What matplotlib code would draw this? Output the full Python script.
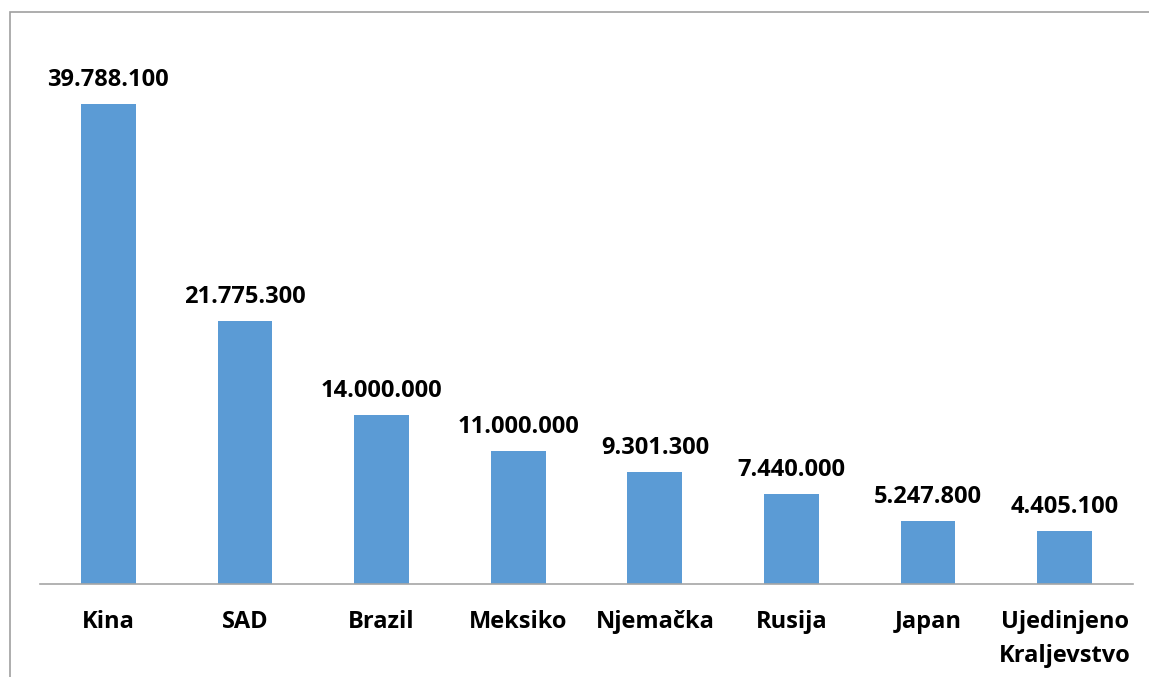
import matplotlib.pyplot as plt
from matplotlib.patches import Rectangle

countries = ["Kina", "SAD", "Brazil", "Meksiko", "Njemačka", "Rusija", "Japan",
             "Ujedinjeno\nKraljevstvo"]
values = [39788100, 21775300, 14000000, 11000000, 9301300, 7440000, 5247800, 4405100]


def fmt(v):
    # thousands separated with dots
    return f"{v:,}".replace(",", ".")


plt.rcParams['font.family'] = ['Open Sans', 'DejaVu Sans']

W, H = 1149, 677
fig = plt.figure(figsize=(W / 100, H / 100), dpi=100)

# axes placed in pixel terms: baseline y=584, left x=40, right x=1133
top_px = 60
ax = fig.add_axes([40 / W, (H - 584) / H, (1133 - 40) / W, (584 - top_px) / H])

x = range(len(countries))
ax.bar(x, values, width=0.4, color="#5B9BD5", zorder=2)
for xi, v in zip(x, values):
    ax.annotate(fmt(v), (xi, v), xytext=(0, 8.5), textcoords="offset points",
                ha="center", va="bottom", fontsize=17, fontweight="bold", color="#000000")

ax.set_xlim(-0.5, len(countries) - 0.5)
ax.set_ylim(0, (584 - top_px) / 480 * values[0])
ax.set_xticks(list(x))
ax.set_xticklabels(countries, fontsize=17, fontweight="bold", linespacing=1.52, va="top")
ax.tick_params(axis="x", length=0, pad=19)
ax.set_yticks([])
for s in ["top", "right", "left"]:
    ax.spines[s].set_visible(False)
ax.spines["bottom"].set_color("#a6a6a6")
ax.spines["bottom"].set_linewidth(1.2)

# outer chart border (only left and top edges visible in the crop)
fig.add_artist(Rectangle((10 / W, -0.1), 1.2, (H - 12) / H + 0.1, transform=fig.transFigure,
                         fill=False, edgecolor="#a0a0a0", linewidth=1.2))

fig.savefig("out.png", dpi=100)
